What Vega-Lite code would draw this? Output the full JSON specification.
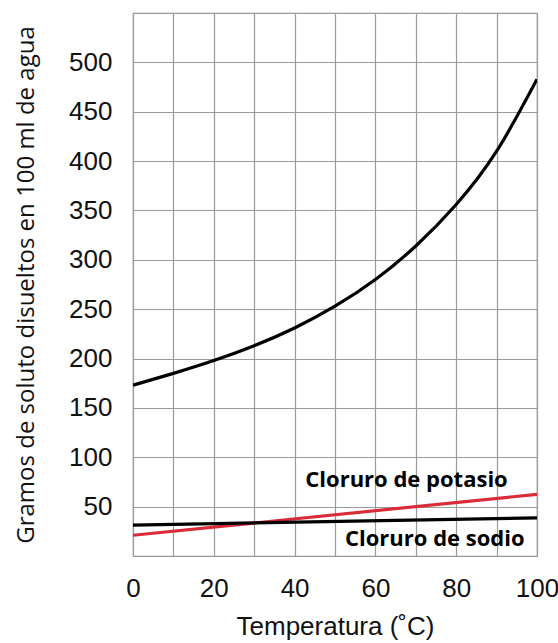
{
  "$schema": "https://vega.github.io/schema/vega-lite/v6.json",
  "width": 404,
  "height": 543,
  "autosize": "none",
  "padding": {"left": 133, "top": 13, "right": 21, "bottom": 87},
  "background": "white",
  "config": {
    "view": {"stroke": "#9a9a9a", "strokeWidth": 1.2},
    "axis": {
      "gridColor": "#9a9a9a",
      "gridOpacity": 1,
      "gridWidth": 1.2,
      "ticks": false,
      "domain": false,
      "labelFont": "Liberation Sans",
      "labelFontSize": 26,
      "labelColor": "#111",
      "titleColor": "#111",
      "titleFontWeight": "normal"
    }
  },
  "datasets": {
    "curves": [
      {"serie": "Sacarosa", "T": 0, "g": 173},
      {"serie": "Sacarosa", "T": 10, "g": 185},
      {"serie": "Sacarosa", "T": 20, "g": 198},
      {"serie": "Sacarosa", "T": 30, "g": 213},
      {"serie": "Sacarosa", "T": 40, "g": 231},
      {"serie": "Sacarosa", "T": 50, "g": 253},
      {"serie": "Sacarosa", "T": 60, "g": 280},
      {"serie": "Sacarosa", "T": 70, "g": 314},
      {"serie": "Sacarosa", "T": 80, "g": 356},
      {"serie": "Sacarosa", "T": 90, "g": 410},
      {"serie": "Sacarosa", "T": 100, "g": 483},
      {"serie": "Cloruro de potasio", "T": 0, "g": 21},
      {"serie": "Cloruro de potasio", "T": 100, "g": 62.5},
      {"serie": "Cloruro de sodio", "T": 0, "g": 31.3},
      {"serie": "Cloruro de sodio", "T": 100, "g": 38.7}
    ],
    "labels": [
      {"texto": "Cloruro de potasio", "T": 67.7, "g": 77},
      {"texto": "Cloruro de sodio", "T": 74.7, "g": 17.5}
    ]
  },
  "layer": [
    {
      "data": {"name": "curves"},
      "mark": {"type": "line", "strokeWidth": 3.2, "interpolate": "natural", "clip": true},
      "encoding": {
        "x": {
          "field": "T",
          "type": "quantitative",
          "scale": {"domain": [0, 100], "nice": false},
          "axis": {
            "values": [0, 10, 20, 30, 40, 50, 60, 70, 80, 90, 100],
            "labelExpr": "datum.value % 20 == 0 ? datum.label : ''",
            "labelPadding": 19,
            "labelFlush": false,
            "title": "Temperatura (˚C)",
            "titleFont": "Liberation Sans",
            "titleFontSize": 26,
            "titlePadding": 12
          }
        },
        "y": {
          "field": "g",
          "type": "quantitative",
          "scale": {"domain": [0, 550], "nice": false},
          "axis": {
            "values": [0, 50, 100, 150, 200, 250, 300, 350, 400, 450, 500, 550],
            "labelExpr": "datum.value == 0 || datum.value == 550 ? '' : datum.label",
            "labelPadding": 21,
            "title": "Gramos de soluto disueltos en 100 ml de agua",
            "titleFont": "Open Sans",
            "titleFontSize": 24,
            "titlePadding": 30
          }
        },
        "color": {
          "field": "serie",
          "type": "nominal",
          "scale": {"domain": ["Sacarosa", "Cloruro de potasio", "Cloruro de sodio"], "range": ["#000000", "#d92b3a", "#000000"]},
          "legend": null
        },
        "order": {"field": "T"}
      }
    },
    {
      "data": {"name": "labels"},
      "mark": {"type": "text", "font": "Open Sans", "fontWeight": "bold", "fontSize": 22, "color": "#000", "align": "center", "baseline": "middle"},
      "encoding": {
        "x": {"field": "T", "type": "quantitative"},
        "y": {"field": "g", "type": "quantitative"},
        "text": {"field": "texto"}
      }
    }
  ]
}
